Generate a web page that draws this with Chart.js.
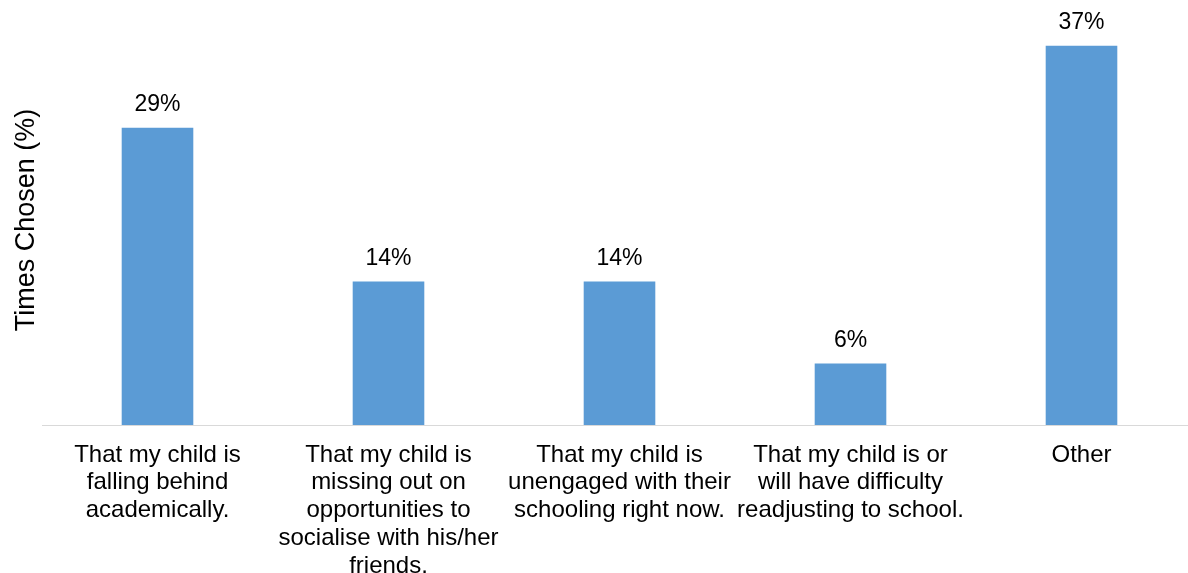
<!DOCTYPE html>
<html>
<head>
<meta charset="utf-8">
<script src="https://cdn.jsdelivr.net/npm/chart.js@4/dist/chart.umd.min.js"></script>
<style>
  html, body { margin: 0; padding: 0; background: #fff; overflow: hidden; }
  #wrap { width: 1197px; height: 573px; }
</style>
</head>
<body>
<div id="wrap"><canvas id="concernChart" width="1197" height="573"></canvas></div>
<script>
const categories = [
    ['That my child is', 'falling behind', 'academically.'],
    ['That my child is', 'missing out on', 'opportunities to', 'socialise with his/her', 'friends.'],
    ['That my child is', 'unengaged with their', 'schooling right now.'],
    ['That my child is or', 'will have difficulty', 'readjusting to school.'],
    ['Other']
];
const timesChosen = [29, 14, 14, 6, 37];
const valueLabels = ['29%', '14%', '14%', '6%', '37%'];

const FONT = '"Liberation Sans", Arial, sans-serif';

// draw the % labels above each bar
const barLabels = {
    id: 'barLabels',
    afterDatasetsDraw(chart) {
        const ctx = chart.ctx;
        const meta = chart.getDatasetMeta(0);
        ctx.save();
        ctx.font = '23px ' + FONT;
        ctx.fillStyle = '#000';
        ctx.textAlign = 'center';
        ctx.textBaseline = 'middle';
        meta.data.forEach(function(bar, i) {
            ctx.fillText(valueLabels[i], bar.x, bar.y - 23);
        });
        ctx.restore();
    }
};

const ctx = document.getElementById('concernChart').getContext('2d');
new Chart(ctx, {
    type: 'bar',
    data: {
        labels: categories,
        datasets: [{
            data: timesChosen,
            backgroundColor: '#5B9BD5',
            borderWidth: 0,
            barPercentage: 0.31,
            categoryPercentage: 1
        }]
    },
    options: {
        responsive: false,
        animation: false,
        layout: { padding: { top: 15, right: 0, left: 0, bottom: 0 } },
        plugins: {
            legend: { display: false },
            tooltip: { enabled: false }
        },
        scales: {
            x: {
                grid: { display: false },
                border: { color: '#d9d9d9', width: 1 },
                ticks: {
                    color: '#000',
                    maxRotation: 0,
                    autoSkip: false,
                    padding: 8,
                    font: { family: FONT, size: 24, lineHeight: 1.16 }
                },
                afterFit: function(s) { s.height = 148; }
            },
            y: {
                min: 0,
                max: 40,
                grid: { display: false },
                border: { display: false },
                ticks: { display: false },
                title: {
                    display: true,
                    text: 'Times Chosen (%)',
                    color: '#000',
                    font: { family: FONT, size: 27 },
                    padding: { top: 10, bottom: 0 }
                },
                afterFit: function(s) { s.width = 42; }
            }
        }
    },
    plugins: [barLabels]
});
</script>
</body>
</html>
